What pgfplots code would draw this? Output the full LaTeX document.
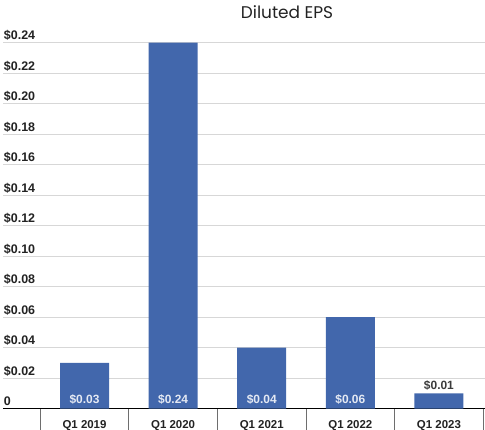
\documentclass[border=0pt]{standalone}
\usepackage{pgfplots}
\pgfplotsset{compat=1.18}
\usepackage{pgfplotstable}
\usepackage{fontspec}
\setmainfont{Liberation Sans}
\newfontfamily\titlefont{Poppins}

\definecolor{barblue}{RGB}{66,103,172}
\definecolor{gridgray}{RGB}{215,215,215}
\definecolor{txt}{RGB}{34,34,34}
\definecolor{inlbl}{RGB}{228,233,243}
\definecolor{outlbl}{RGB}{60,60,60}
\definecolor{sepgray}{RGB}{110,110,110}

% Diluted EPS per first quarter, dollars
\pgfplotstableread{
x y
0 0.03
1 0.24
2 0.04
3 0.06
4 0.01
}\eps
% bars tall enough to carry their label inside
\pgfplotstableread{
x y
0 0.03
1 0.24
2 0.04
3 0.06
}\insidelbl
% short bar, label sits above
\pgfplotstableread{
x y
4 0.01
}\abovelbl

\newcommand{\dollarlabel}{\$\pgfmathprintnumber[fixed, precision=2, fixed zerofill, assume math mode=true]{\pgfplotspointmeta}}

\begin{document}
\begin{tikzpicture}
\begin{axis}[
  x=88.6bp, y=1525bp,
  xmin=-0.92, xmax=4.52,
  ymin=0, ymax=0.24,
  clip=false,
  axis x line*=bottom,
  axis y line*=left,
  x axis line style={-, black, line width=1.3bp},
  y axis line style={draw=none},
  xtick={0,1,2,3,4},
  xticklabels={Q1 2019,Q1 2020,Q1 2021,Q1 2022,Q1 2023},
  major x tick style={draw=none},
  major y tick style={draw=none},
  minor xtick={-0.5,0.5,1.5,2.5,3.5,4.5},
  minor x tick style={sepgray, line width=0.8bp},
  minor tick length=21.3bp,
  tick align=outside,
  xticklabel style={font=\bfseries\fontsize{11.5}{12}\selectfont, text=txt,
    anchor=base, inner sep=0pt, yshift=-15.3bp},
  ytick={0,0.02,0.04,0.06,0.08,0.10,0.12,0.14,0.16,0.18,0.20,0.22,0.24},
  yticklabels={0,\$0.02,\$0.04,\$0.06,\$0.08,\$0.10,\$0.12,\$0.14,\$0.16,\$0.18,\$0.20,\$0.22,\$0.24},
  ymajorgrids,
  grid style={gridgray, line width=0.9bp},
  yticklabel style={font=\bfseries\fontsize{12.5}{13}\selectfont, text=txt,
    anchor=base west, inner sep=0pt, xshift=5bp, yshift=2.7bp},
  typeset ticklabels with strut=false,
]
\addplot[ybar, bar width=49bp, bar shift=0pt, fill=barblue, draw=none]
  table[x=x, y=y] {\eps};

\addplot[draw=none, mark=none, point meta=explicit,
  nodes near coords={\dollarlabel},
  every node near coord/.append style={font=\bfseries\fontsize{12}{13}\selectfont,
    text=inlbl, anchor=base, inner sep=0pt, yshift=4.7bp}]
  table[x=x, y expr=0, meta=y] {\insidelbl};

\addplot[draw=none, mark=none, point meta=explicit,
  nodes near coords={\dollarlabel},
  every node near coord/.append style={font=\bfseries\fontsize{12}{13}\selectfont,
    text=outlbl, anchor=base, inner sep=0pt, yshift=4bp}]
  table[x=x, y=y, meta=y] {\abovelbl};

\node[font=\titlefont\fontsize{17}{18}\selectfont, text=txt, anchor=center]
  at (axis cs:2.285,0.2600) {Diluted EPS};

\coordinate (bbl) at (axis cs:-0.954,-0.01397);
\coordinate (btr) at (axis cs:4.520,0.2680);
\end{axis}
\pgfresetboundingbox
\path[use as bounding box] (bbl) rectangle (btr);
\end{tikzpicture}
\end{document}
